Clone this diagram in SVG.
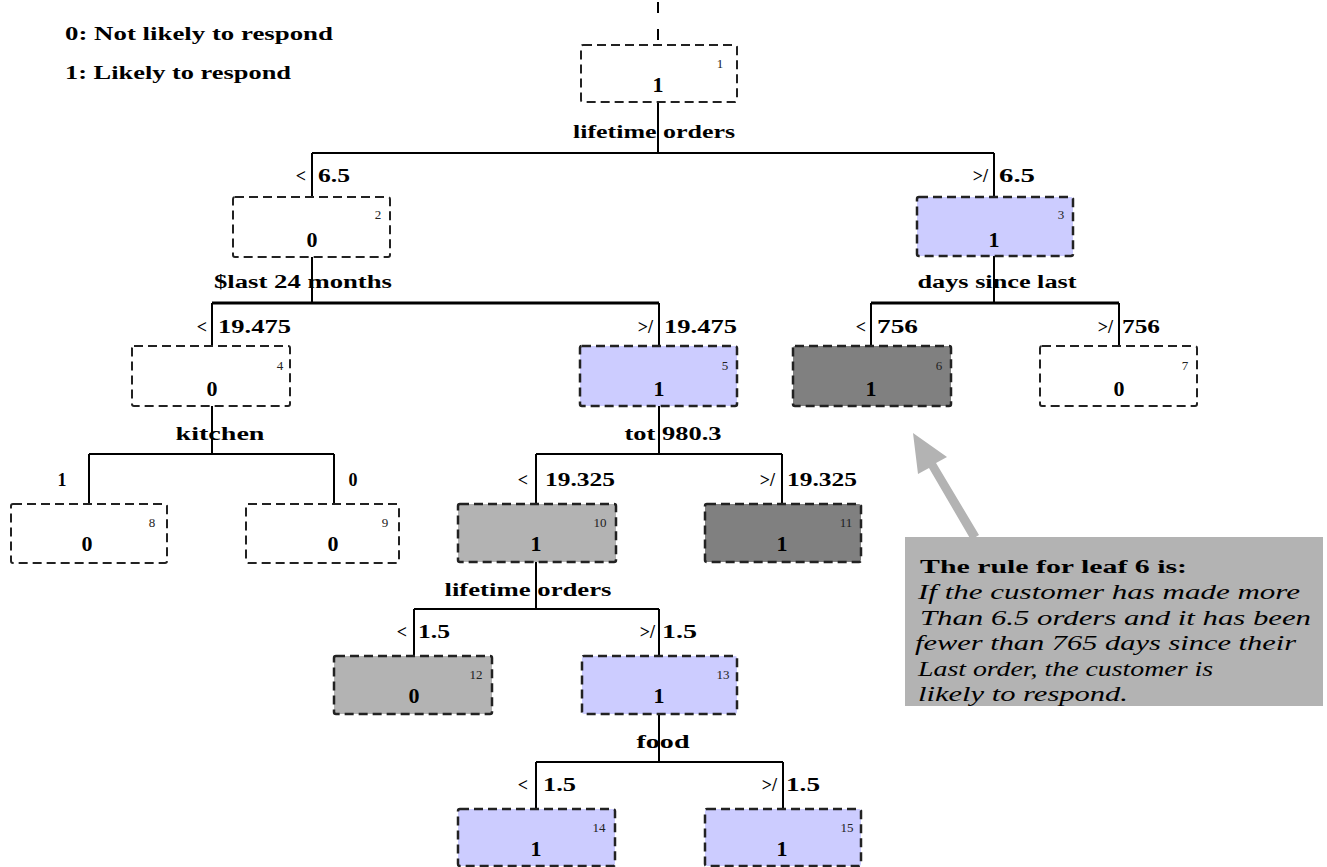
<svg xmlns="http://www.w3.org/2000/svg" width="1327" height="867" viewBox="0 0 1327 867">
  <style>
    text { font-family: "Liberation Serif", "Times New Roman", serif; fill: #000; }
    .lbl { font-weight: bold; font-size: 18px; }
    .val { font-weight: bold; font-size: 22px; text-anchor: middle; }
    .num { font-size: 13px; fill: #222; text-anchor: middle; }
    .box { stroke: #222; stroke-width: 2; stroke-dasharray: 9 5; fill: #fff; }
    .blue { fill: #ccccff; stroke-width: 2.5; }
    .lgray { fill: #b3b3b3; stroke-width: 2.5; }
    .dgray { fill: #808080; stroke-width: 2.5; }
    .conn line { stroke: #000; stroke-width: 2; }
    .conn .bar { stroke-width: 3; }
    .end { text-anchor: end; }
    .mid { text-anchor: middle; }
    .note { font-style: italic; font-size: 20px; }
  </style>

  <rect width="1327" height="867" fill="#fff"/>

  <!-- legend -->
  <g id="legend">
    <text class="lbl" x="65" y="40" textLength="268" lengthAdjust="spacingAndGlyphs">0: Not likely to respond</text>
    <text class="lbl" x="65" y="79" textLength="226" lengthAdjust="spacingAndGlyphs">1: Likely to respond</text>
  </g>

  <!-- split labels and branch conditions -->
  <g id="labels">
    <text class="lbl mid" x="654" y="138" textLength="162" lengthAdjust="spacingAndGlyphs">lifetime orders</text>
    <text class="lbl end" x="306" y="182">&lt;</text>
    <text class="lbl" x="318" y="182" textLength="32" lengthAdjust="spacingAndGlyphs">6.5</text>
    <text class="lbl end" x="988" y="182">&gt;/</text>
    <text class="lbl" x="999" y="182" textLength="36" lengthAdjust="spacingAndGlyphs">6.5</text>

    <text class="lbl mid" x="303" y="288" textLength="178" lengthAdjust="spacingAndGlyphs">$last 24 months</text>
    <text class="lbl mid" x="997" y="288" textLength="159" lengthAdjust="spacingAndGlyphs">days since last</text>

    <text class="lbl end" x="207" y="333">&lt;</text>
    <text class="lbl" x="218" y="333" textLength="73" lengthAdjust="spacingAndGlyphs">19.475</text>
    <text class="lbl end" x="653" y="333">&gt;/</text>
    <text class="lbl" x="664" y="333" textLength="73" lengthAdjust="spacingAndGlyphs">19.475</text>
    <text class="lbl end" x="866" y="333">&lt;</text>
    <text class="lbl" x="877" y="333" textLength="41" lengthAdjust="spacingAndGlyphs">756</text>
    <text class="lbl end" x="1113" y="333">&gt;/</text>
    <text class="lbl" x="1122" y="333" textLength="38" lengthAdjust="spacingAndGlyphs">756</text>

    <text class="lbl mid" x="220" y="440" textLength="89" lengthAdjust="spacingAndGlyphs">kitchen</text>
    <text class="lbl mid" x="673" y="440" textLength="97" lengthAdjust="spacingAndGlyphs">tot 980.3</text>

    <text class="lbl mid" x="62" y="486">1</text>
    <text class="lbl mid" x="353" y="486">0</text>
    <text class="lbl end" x="528" y="486">&lt;</text>
    <text class="lbl" x="545" y="486" textLength="70" lengthAdjust="spacingAndGlyphs">19.325</text>
    <text class="lbl end" x="775" y="486">&gt;/</text>
    <text class="lbl" x="787" y="486" textLength="70" lengthAdjust="spacingAndGlyphs">19.325</text>

    <text class="lbl mid" x="528" y="596" textLength="167" lengthAdjust="spacingAndGlyphs">lifetime orders</text>
    <text class="lbl end" x="407" y="638">&lt;</text>
    <text class="lbl" x="418" y="638" textLength="32" lengthAdjust="spacingAndGlyphs">1.5</text>
    <text class="lbl end" x="655" y="638">&gt;/</text>
    <text class="lbl" x="662" y="638" textLength="35" lengthAdjust="spacingAndGlyphs">1.5</text>

    <text class="lbl mid" x="663" y="748" textLength="53" lengthAdjust="spacingAndGlyphs">food</text>
    <text class="lbl end" x="528" y="791">&lt;</text>
    <text class="lbl" x="543" y="791" textLength="33" lengthAdjust="spacingAndGlyphs">1.5</text>
    <text class="lbl end" x="777" y="791">&gt;/</text>
    <text class="lbl" x="786" y="791" textLength="34" lengthAdjust="spacingAndGlyphs">1.5</text>
  </g>

  <!-- tree connectors -->
  <g id="connectors" class="conn">
    <line x1="658" y1="2" x2="658" y2="45" stroke-dasharray="11 16"/>
    <line x1="658" y1="102" x2="658" y2="153"/>
    <line x1="312" y1="153" x2="994" y2="153"/>
    <line x1="312" y1="153" x2="312" y2="197"/>
    <line x1="994" y1="153" x2="994" y2="197"/>

    <line x1="312" y1="257" x2="312" y2="303"/>
    <line class="bar" x1="212" y1="303" x2="659" y2="303"/>
    <line x1="212" y1="303" x2="212" y2="346"/>
    <line x1="659" y1="303" x2="659" y2="346"/>

    <line x1="994" y1="256" x2="994" y2="303"/>
    <line class="bar" x1="871" y1="303" x2="1119" y2="303"/>
    <line x1="871" y1="303" x2="871" y2="346"/>
    <line x1="1119" y1="303" x2="1119" y2="346"/>

    <line x1="212" y1="406" x2="212" y2="454"/>
    <line x1="89" y1="454" x2="334" y2="454"/>
    <line x1="89" y1="454" x2="89" y2="504"/>
    <line x1="334" y1="454" x2="334" y2="504"/>

    <line x1="659" y1="406" x2="659" y2="454"/>
    <line x1="536" y1="454" x2="782" y2="454"/>
    <line x1="536" y1="454" x2="536" y2="504"/>
    <line x1="782" y1="454" x2="782" y2="504"/>

    <line x1="536" y1="562" x2="536" y2="609"/>
    <line x1="414" y1="609" x2="659" y2="609"/>
    <line x1="414" y1="609" x2="414" y2="656"/>
    <line x1="659" y1="609" x2="659" y2="656"/>

    <line x1="659" y1="714" x2="659" y2="762"/>
    <line x1="536" y1="762" x2="783" y2="762"/>
    <line x1="536" y1="762" x2="536" y2="809"/>
    <line x1="783" y1="762" x2="783" y2="809"/>
  </g>

  <!-- nodes -->
  <g id="node1"><rect class="box" x="581" y="45" width="156" height="57" rx="2"/><text class="val" x="658" y="92">1</text><text class="num" x="720" y="68">1</text></g>
  <g id="node2"><rect class="box" x="233" y="197" width="157" height="60" rx="2"/><text class="val" x="312" y="247">0</text><text class="num" x="378" y="219">2</text></g>
  <g id="node3"><rect class="box blue" x="917" y="197" width="156" height="59" rx="2"/><text class="val" x="994" y="247">1</text><text class="num" x="1061" y="219">3</text></g>
  <g id="node4"><rect class="box" x="132" y="346" width="158" height="60" rx="2"/><text class="val" x="212" y="396">0</text><text class="num" x="280" y="370">4</text></g>
  <g id="node5"><rect class="box blue" x="580" y="346" width="157" height="60" rx="2"/><text class="val" x="659" y="396">1</text><text class="num" x="725" y="370">5</text></g>
  <g id="node6"><rect class="box dgray" x="793" y="346" width="158" height="60" rx="2"/><text class="val" x="871" y="396">1</text><text class="num" x="939" y="370">6</text></g>
  <g id="node7"><rect class="box" x="1040" y="346" width="157" height="60" rx="2"/><text class="val" x="1119" y="396">0</text><text class="num" x="1185" y="370">7</text></g>
  <g id="node8"><rect class="box" x="11" y="504" width="156" height="59" rx="2"/><text class="val" x="87" y="551">0</text><text class="num" x="152" y="527">8</text></g>
  <g id="node9"><rect class="box" x="246" y="504" width="153" height="59" rx="2"/><text class="val" x="333" y="551">0</text><text class="num" x="385" y="527">9</text></g>
  <g id="node10"><rect class="box lgray" x="458" y="504" width="158" height="58" rx="2"/><text class="val" x="536" y="551">1</text><text class="num" x="600" y="527">10</text></g>
  <g id="node11"><rect class="box dgray" x="705" y="504" width="156" height="58" rx="2"/><text class="val" x="782" y="551">1</text><text class="num" x="846" y="527">11</text></g>
  <g id="node12"><rect class="box lgray" x="334" y="656" width="158" height="58" rx="2"/><text class="val" x="414" y="703">0</text><text class="num" x="476" y="679">12</text></g>
  <g id="node13"><rect class="box blue" x="582" y="656" width="155" height="58" rx="2"/><text class="val" x="659" y="703">1</text><text class="num" x="723" y="679">13</text></g>
  <g id="node14"><rect class="box blue" x="458" y="809" width="157" height="57" rx="2"/><text class="val" x="536" y="856">1</text><text class="num" x="599" y="832">14</text></g>
  <g id="node15"><rect class="box blue" x="705" y="809" width="156" height="57" rx="2"/><text class="val" x="782" y="856">1</text><text class="num" x="847" y="832">15</text></g>

  <!-- callout pointing at leaf 6 -->
  <g id="callout">
    <polygon fill="#b3b3b3" points="913,433 947,457 936,463 979,535 971,540 929,468 918,474"/>
    <rect x="905" y="537" width="418" height="169" fill="#b3b3b3"/>
    <text class="lbl" x="920" y="573" font-size="21" textLength="267" lengthAdjust="spacingAndGlyphs">The rule for leaf 6 is:</text>
    <text class="note" x="918" y="599" textLength="382" lengthAdjust="spacingAndGlyphs">If the customer has made more</text>
    <text class="note" x="920" y="625" textLength="391" lengthAdjust="spacingAndGlyphs">Than 6.5 orders and it has been</text>
    <text class="note" x="915" y="650" textLength="381" lengthAdjust="spacingAndGlyphs">fewer than 765 days since their</text>
    <text class="note" x="918" y="676" textLength="295" lengthAdjust="spacingAndGlyphs">Last order, the customer is</text>
    <text class="note" x="918" y="701" textLength="210" lengthAdjust="spacingAndGlyphs">likely to respond.</text>
  </g>
</svg>
